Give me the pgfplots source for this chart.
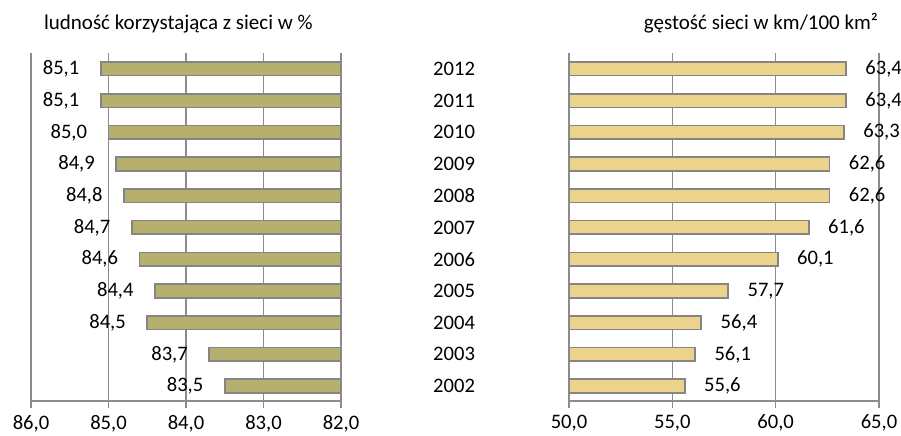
\documentclass[border=0pt]{standalone}
\usepackage{fontspec}
\setmainfont{Carlito}
\usepackage{pgfplots}
\usepackage{pgfplotstable}
\pgfplotsset{compat=1.18}

\definecolor{barL}{HTML}{B5B06E}
\definecolor{barR}{HTML}{EBD38C}
\definecolor{edge}{HTML}{858585}
\definecolor{gridc}{HTML}{8C8C8C}

% y = 0 (2002) ... 10 (2012)
\pgfplotstableread{
y v
0 83.5
1 83.7
2 84.5
3 84.4
4 84.6
5 84.7
6 84.8
7 84.9
8 85.0
9 85.1
10 85.1
}\ludnosc

\pgfplotstableread{
y v
0 55.6
1 56.1
2 56.4
3 57.7
4 60.1
5 61.6
6 62.6
7 62.6
8 63.3
9 63.4
10 63.4
}\gestosc

\pgfplotsset{
  common/.style={
    scale only axis,
    width=155pt, height=174pt,
    xbar, bar width=6.8pt,
    ymin=-0.47, ymax=10.5,
    axis x line*=bottom,
    x axis line style={gridc, line width=0.8pt, -},
    xmajorgrids,
    grid style={gridc, line width=0.8pt},
    tick align=outside,
    major tick length=3.5pt,
    xtick style={gridc, line width=0.8pt},
    clip mode=individual,
    font=\fontsize{10.3}{12}\selectfont,
    /pgf/number format/.cd, fixed, fixed zerofill, precision=1, use comma,
    assume math mode=true,
  },
}

\begin{document}
\begin{tikzpicture}

\begin{axis}[common,
    axis y line=none,
    x dir=reverse,
    xmin=82, xmax=86,
    xtick={82,83,84,85,86},
    nodes near coords,
    every node near coord/.append style={anchor=east, xshift=-7pt, font=\fontsize{10.3}{12}\selectfont},
]
\addplot[fill=barL, draw=edge, line width=0.8pt] table[x=v, y=y] {\ludnosc};
\node[anchor=base west, font=\fontsize{10.5}{12}\selectfont] at (rel axis cs:0,1) [xshift=3pt, yshift=12pt] {ludność korzystająca z sieci w \%};
\end{axis}

\begin{axis}[common,
    at={(269pt,0pt)},
    xmin=50, xmax=65,
    xtick={50,55,60,65},
    axis y line*=left,
    y axis line style={draw=none},
    ytick={0,1,2,3,4,5,6,7,8,9,10},
    yticklabels={2002,2003,2004,2005,2006,2007,2008,2009,2010,2011,2012},
    ytick style={draw=none},
    yticklabel style={anchor=east, xshift=-40pt},
    nodes near coords,
    every node near coord/.append style={anchor=west, xshift=6pt, font=\fontsize{10.3}{12}\selectfont},
]
\addplot[fill=barR, draw=edge, line width=0.8pt] table[x=v, y=y] {\gestosc};
\node[anchor=base east, font=\fontsize{10.5}{12}\selectfont] at (rel axis cs:1,1) [xshift=3pt, yshift=12pt] {gęstość sieci w km/100 km²};
\end{axis}

\pgfresetboundingbox
\useasboundingbox (-15.5pt,-17pt) rectangle (435pt,200.5pt);
\end{tikzpicture}
\end{document}
